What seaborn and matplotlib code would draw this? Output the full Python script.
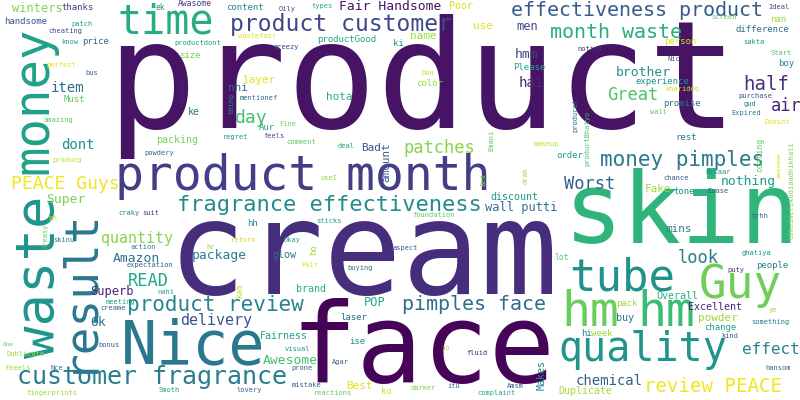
import matplotlib
matplotlib.use("Agg")
import matplotlib.pyplot as plt
import seaborn as sns

sns.set_theme(style="white")
plt.rcParams['font.family'] = ['DejaVu Sans Mono', 'DejaVu Sans']

# word cloud of product review terms: word, weight (font size in px), colour tone
words = [
    "product", "cream", "face", "skin", "Nice", "product month", "time", "money", "waste", "result",
    "tube", "quality", "hm", "hm", "Guy", "customer fragrance", "fragrance effectiveness", "product customer",
    "effectiveness product", "month waste",
    "money pimples", "pimples face", "product review", "review PEACE", "PEACE Guys", "half", "Great", "air",
    "Worst", "patches",
    "look", "READ", "day", "effect", "quantity", "delivery", "dont", "item", "chemical", "hai",
    "Fair Handsome", "Super", "Amazon", "package", "Awesome", "brother", "nothing", "Ok", "hmm", "men",
    "wall putti", "Superb", "POP", "winters", "layer", "nhi", "name", "use", "hota", "Bad",
    "amount", "Fake", "mins", "powder", "Best", "Poor", "ke", "packing", "discount", "glow",
    "brand", "Fairness", "buy", "Excellent", "Overall", "Duplicate", "Makes", "handsome", "thanks", "content",
    "price", "size", "Must", "Aur", "productGood", "ki", "color", "Please", "experience", "nan",
    "difference", "person", "boy", "promise", "rest", "order", "tone", "people", "pack", "hi",
    "week", "change", "laser", "ise", "ho", "hh", "ko", "lot", "ek", "Awasome",
    "kam", "coating", "patch", "cheating", "know", "productdont", "wastefair", "perfect", "bus", "bilkul",
    "thing", "mentionef", "amazing", "feels", "regret", "powdery", "producg", "Oily", "types", "greezy",
    "Ideal", "screen", "sakta", "notice", "Start", "Nic", "kharidoo", "purchase", "gud", "Expired",
    "wall", "Doesnt", "producet", "productBhaiyo", "makeup", "Emani", "drak", "Bed", "Don", "Fine",
    "comment", "deal", "useI", "chance", "Bekaar", "Esase", "amazome", "Ushuimerskodiaadhikhali", "foundation", "sticks",
    "Okay", "aspect", "Fair", "buying", "visual", "Agar", "prone", "jo", "fluid", "mistake",
    "reactions", "darker", "itu", "Amsm", "complaint", "hansom", "kind", "something", "ye", "puty",
    "ghatiya", "trhh", "craky", "suit", "pe", "skinu", "Greasy", "action", "expectation", "hr",
    "return", "nahi", "meeting", "creame", "bonus", "Dublicate", "Feeels", "Nce", "One", "fingerprints",
    "Smoth", "lovery",
]

weights = [
    150, 130, 110, 98, 60, 48, 40, 49, 54, 46,
    44, 40, 48, 48, 46, 25, 22, 23, 20, 20,
    21, 20, 21, 19, 18, 19, 17, 17, 17, 17,
    17, 17, 18, 16, 15, 15, 14, 14, 14, 14,
    13, 13, 13, 13, 13, 13, 13, 13, 13, 12,
    12, 12, 12, 12, 11, 11, 11, 11, 11, 11,
    11, 11, 11, 11, 11, 10, 10, 10, 10, 10,
    10, 10, 10, 10, 10, 10, 10, 9, 9, 9,
    9, 9, 9, 9, 9, 9, 9, 9, 9, 9,
    9, 9, 9, 9, 9, 9, 9, 9, 9, 9,
    9, 9, 9, 9, 9, 9, 9, 8, 8, 8,
    8, 8, 7, 7, 7, 7, 7, 7, 7, 7,
    7, 7, 7, 7, 7, 7, 7, 7, 7, 7,
    7, 7, 7, 7, 7, 7, 7, 7, 7, 7,
    7, 7, 7, 7, 7, 7, 7, 7, 7, 7,
    7, 7, 7, 7, 7, 7, 6, 7, 7, 7,
    7, 7, 7, 7, 7, 7, 7, 7, 7, 7,
    7, 7, 7, 7, 7, 7, 7, 7, 7, 7,
    7, 7, 7, 7, 7, 7, 7, 7, 7, 7,
    7, 7, 7, 7, 7, 7, 7, 7, 6, 7,
    7, 7,
]

tones = [
    0.05, 0.13, 0.01, 0.65, 0.40, 0.18, 0.62, 0.57, 0.52, 0.40,
    0.50, 0.52, 0.77, 0.68, 0.78, 0.42, 0.48, 0.22, 0.28, 0.62,
    0.40, 0.35, 0.45, 0.98, 0.98, 0.15, 0.72, 0.10, 0.30, 0.82,
    0.42, 0.60, 0.70, 0.45, 0.82, 0.25, 0.50, 0.35, 0.30, 0.12,
    0.05, 0.80, 0.38, 0.42, 0.70, 0.50, 0.55, 0.38, 0.20, 0.22,
    0.38, 0.10, 0.60, 0.82, 0.95, 0.35, 0.85, 0.95, 0.62, 0.25,
    0.30, 0.85, 0.42, 0.85, 0.95, 0.95, 0.38, 0.80, 0.55, 0.38,
    0.62, 0.58, 0.38, 0.10, 0.62, 0.87, 0.45, 0.25, 0.18, 0.45,
    0.35, 0.80, 0.75, 0.60, 0.58, 0.50, 0.85, 0.60, 0.50, 0.85,
    0.35, 0.95, 0.45, 0.38, 0.40, 0.55, 0.45, 0.45, 0.85, 0.42,
    0.85, 0.58, 0.35, 0.50, 0.85, 0.45, 0.92, 0.75, 0.50, 0.15,
    0.90, 0.75, 0.55, 0.22, 0.55, 0.55, 0.95, 0.95, 0.30, 0.12,
    0.45, 0.35, 0.75, 0.25, 0.50, 0.30, 0.90, 0.20, 0.62, 0.18,
    0.20, 0.75, 0.50, 0.15, 0.72, 0.25, 0.92, 0.25, 0.40, 0.40,
    0.75, 0.95, 0.35, 0.70, 0.90, 0.75, 0.85, 0.80, 0.90, 0.78,
    0.75, 0.60, 0.85, 0.25, 0.50, 0.25, 0.92, 0.80, 0.75, 0.55,
    0.60, 0.30, 0.95, 0.35, 0.55, 0.30, 0.30, 0.85, 0.10, 0.30,
    0.75, 0.80, 0.35, 0.30, 0.60, 0.35, 0.30, 0.40, 0.85, 0.15,
    0.50, 0.30, 0.45, 0.15, 0.92, 0.40, 0.75, 0.42, 0.30, 0.85,
    0.92, 0.60, 0.60, 0.30, 0.30, 0.85, 0.85, 0.35, 0.75, 0.85,
    0.55, 0.30,
]

# layout: centre x, centre y (pixels from top-left), rotation
spots = [
    (422, 86, 0), (363, 257, 0), (423, 351, 0), (682, 215, 0), (193, 347, 0),
    (303, 177, 0), (166, 23, 0), (33, 100, 90), (40, 277, 90), (78, 290, 90),
    (622, 278, 0), (643, 350, 0), (590, 313, 0), (666, 313, 0), (740, 285, 0),
    (152, 377, 0), (329, 205, 0), (341, 24, 0), (637, 11, 0), (616, 33, 0),
    (682, 160, 0), (474, 305, 0), (215, 305, 0), (713, 386, 0), (65, 184, 0),
    (766, 85, 0), (633, 95, 0), (786, 106, 0), (590, 184, 0), (439, 148, 0),
    (698, 258, 0), (148, 281, 0), (251, 118, 0), (771, 349, 0), (137, 238, 0),
    (216, 320, 0), (78, 145, 0), (67, 88, 0), (609, 381, 0), (531, 83, 0),
    (390, 7, 0), (66, 199, 0), (136, 258, 0), (219, 255, 0), (290, 360, 0),
    (643, 73, 0), (748, 182, 0), (98, 323, 0), (527, 55, 0), (527, 26, 0),
    (521, 208, 0), (112, 292, 0), (375, 303, 0), (37, 8, 0), (259, 80, 0),
    (238, 88, 0), (423, 36, 0), (483, 26, 0), (339, 97, 0), (371, 148, 0),
    (386, 162, 90), (658, 189, 0), (679, 229, 0), (718, 318, 0), (359, 386, 0),
    (461, 6, 0), (194, 112, 0), (177, 140, 0), (514, 197, 0), (284, 255, 0),
    (311, 289, 0), (284, 336, 0), (625, 318, 0), (715, 307, 0), (677, 296, 0),
    (585, 391, 0), (542, 375, 90), (26, 21, 0), (78, 7, 0), (245, 7, 0),
    (96, 42, 0), (190, 55, 0), (74, 99, 0), (267, 128, 0), (347, 39, 0),
    (398, 44, 0), (430, 84, 0), (529, 67, 0), (662, 81, 0), (778, 20, 0),
    (762, 30, 0), (680, 41, 0), (786, 64, 0), (682, 103, 0), (686, 137, 0),
    (570, 156, 0), (684, 191, 0), (772, 265, 0), (627, 303, 0), (587, 333, 0),
    (602, 333, 0), (720, 328, 0), (354, 317, 0), (357, 341, 0), (314, 250, 90),
    (252, 223, 0), (386, 392, 0), (562, 258, 0), (160, 7, 0), (195, 4, 0),
    (240, 291, 90), (760, 155, 90), (82, 24, 0), (65, 31, 0), (70, 42, 0),
    (198, 43, 0), (257, 36, 0), (61, 65, 0), (92, 73, 0), (182, 90, 90),
    (232, 103, 90), (259, 98, 0), (58, 120, 0), (274, 136, 0), (236, 137, 0),
    (159, 153, 0), (67, 160, 0), (287, 9, 0), (322, 6, 0), (286, 47, 0),
    (779, 7, 0), (724, 17, 0), (754, 42, 0), (590, 49, 0), (781, 53, 0),
    (674, 59, 0), (682, 89, 0), (755, 96, 0), (750, 104, 0), (746, 113, 0),
    (659, 112, 0), (777, 122, 0), (575, 115, 90), (587, 138, 90), (546, 144, 0),
    (491, 140, 90), (526, 175, 90), (483, 180, 90), (428, 73, 0), (288, 124, 0),
    (301, 142, 0), (346, 146, 0), (329, 178, 0), (676, 178, 0), (718, 172, 0),
    (718, 191, 0), (779, 165, 90), (792, 190, 90), (434, 215, 0), (329, 221, 0),
    (292, 240, 0), (405, 248, 0), (310, 265, 0), (360, 268, 0), (297, 349, 0),
    (340, 362, 0), (302, 368, 0), (446, 348, 0), (477, 353, 0), (306, 385, 0),
    (333, 393, 0), (423, 388, 0), (454, 386, 0), (515, 386, 0), (497, 393, 0),
    (778, 368, 0), (730, 336, 0), (770, 322, 0), (773, 310, 0), (736, 270, 0),
    (757, 253, 0), (760, 216, 0), (129, 213, 0), (151, 213, 0), (53, 218, 0),
    (64, 240, 0), (46, 236, 90), (143, 247, 0), (150, 265, 0), (211, 247, 0),
    (243, 240, 0), (166, 292, 0), (120, 302, 0), (113, 308, 0), (109, 345, 0),
    (26, 354, 0), (18, 368, 0), (57, 368, 0), (8, 344, 0), (52, 393, 0),
    (169, 390, 0), (249, 390, 0),
]

assert len(words) == len(weights) == len(tones) == len(spots)

cmap = sns.color_palette("viridis", as_cmap=True)
W, H, DPI = 800, 400, 100

fig = plt.figure(figsize=(W / DPI, H / DPI), dpi=DPI)
ax = fig.add_axes([0, 0, 1, 1])
ax.set_xlim(0, W)
ax.set_ylim(H, 0)
ax.axis('off')

for word, size, tone, (x, y, rot) in zip(words, weights, tones, spots):
    ax.text(x, y, word, fontsize=size * 72 / DPI, color=cmap(tone),
            rotation=rot, ha='center', va='center')

fig.savefig('out.png', dpi=DPI, facecolor='white')
plt.close(fig)
